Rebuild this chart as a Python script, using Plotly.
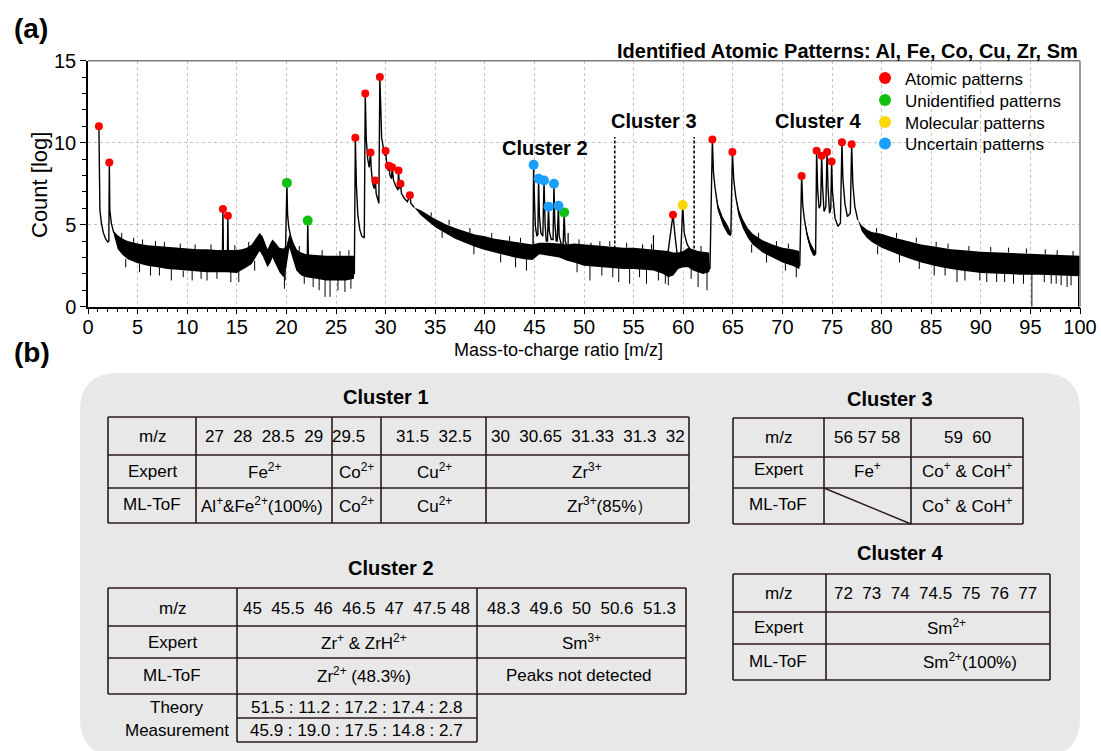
import plotly.graph_objects as go

W, H = 1101, 751

# ---------------- spectrum data ----------------
# clean signal line (peaks and their tails); None separates segments
signal_x = [1.1, 1.12, 1.2, 1.35, 1.55, 1.8, 2.0, 2.1, 2.15, 2.2, 2.35, 2.6, None,
            13.55, 13.6, 13.65, None,
            14.05, 14.1, 14.15, None,
            19.85, 20.05, 20.12, 20.25, 20.45, 20.7, 21.0, None,
            22.1, 22.15, 22.22, None,
            26.85, 26.95, 27.05, 27.2, 27.4, 27.6, 27.85, 27.95, 28.05, 28.2, 28.35, 28.48, 28.55,
            28.7, 28.85, 28.97, 29.05, 29.2, 29.32, 29.42, 29.5, 29.6, 29.8, 29.95, 30.0, 30.1,
            30.25, 30.32, 30.45, 30.6, 30.66, 30.8, 31.0, 31.25, 31.3, 31.4, 31.5, 31.6, 31.9,
            32.2, 32.44, 32.55, 32.9, None,
            44.85, 44.92, 45.02, 45.1, 45.25, 45.35, 45.42, 45.5, 45.65, 45.85, 45.97, 46.08,
            46.2, 46.32, 46.42, 46.5, 46.7, 46.88, 46.97, 47.05, 47.2, 47.3, 47.42, 47.5, 47.75,
            47.9, 48.0, 48.1, 48.3, None,
            58.4, 58.75, 58.97, 59.2, 59.45, 59.75, 59.95, 60.1, 60.4, 60.7, None,
            62.7, 62.94, 63.05, 63.2, 63.5, 64.0, 64.5, 64.8, 64.96, 65.1, 65.3, 65.6, 66.0,
            66.5, 67.0, 68.0, 69.0, 70.0, 71.0, 71.75, 71.94, 72.05, 72.2, 72.5, 72.8, 73.1,
            73.35, 73.45, 73.55, 73.7, 73.85, 73.96, 74.05, 74.2, 74.38, 74.5, 74.6, 74.75,
            74.88, 74.96, 75.05, 75.3, 75.6, 75.85, 76.0, 76.1, 76.3, 76.55, 76.85, 76.98,
            77.1, 77.3, 77.6]
signal_y = [11.0, 7.2, 5.9, 5.1, 4.5, 4.1, 3.95, 4.0, 8.8, 5.9, 5.1, 4.5, None,
            3.0, 5.95, 3.2, None,
            3.0, 5.55, 3.2, None,
            1.6, 7.55, 5.6, 4.8, 4.25, 3.8, 3.45, None,
            2.6, 5.25, 3.0, None,
            2.0, 10.3, 7.5, 5.6, 4.7, 4.3, 4.2, 13.0, 10.2, 9.0, 8.5, 9.4, 8.4,
            7.5, 7.2, 7.7, 6.9, 6.5, 6.3, 14.0, 11.5, 10.3, 9.6, 9.2, 9.5, 8.8,
            8.3, 8.6, 8.0, 7.8, 8.5, 7.7, 7.4, 7.1, 8.3, 7.2, 7.5, 6.9, 6.6,
            6.4, 6.8, 6.3, 6.05, None,
            3.0, 8.65, 6.2, 4.9, 4.3, 4.4, 7.8, 5.6, 4.5, 4.3, 7.7, 5.0,
            4.0, 4.0, 6.1, 4.6, 4.1, 4.1, 7.5, 5.2, 4.0, 4.0, 6.15, 4.3, 3.7,
            3.8, 5.75, 4.0, 3.7, None,
            3.0, 4.5, 5.6, 4.2, 2.9, 3.1, 6.2, 4.5, 3.8, 3.5, None,
            2.3, 10.2, 8.2, 7.3, 6.05, 5.2, 4.65, 4.4, 9.43, 7.7, 6.7, 5.7, 5.05,
            4.5, 4.1, 3.65, 3.4, 3.15, 3.0, 2.5, 7.97, 6.2, 5.4, 4.35, 3.7, 3.35,
            3.2, 9.51, 7.2, 6.0, 6.2, 9.21, 7.3, 5.8, 6.1, 9.43, 7.3, 5.7,
            6.0, 8.86, 7.0, 5.4, 4.9, 5.1, 10.02, 7.8, 6.3, 5.5, 5.7, 9.9,
            7.5, 6.1, 5.3]

# noisy background band: upper and lower edges
band_x = [2.6, 3.0, 3.5, 4.0, 5.0, 6.0, 7.0, 8.0, 9.0, 10.0, 11.0, 12.0, 13.0, 14.0, 15.0,
          15.5, 16.0, 16.5, 17.0, 17.3, 17.6, 17.9, 18.1, 18.4, 18.6, 18.9, 19.3, 19.7,
          20.0, 20.3, 20.6, 21.0, 21.5, 22.0, 23.0, 24.0, 25.0, 26.0, 26.8, 26.85,
          32.9, 33.5, 34.0, 35.0, 36.0, 37.0, 38.0, 39.0, 40.0, 41.0, 42.0, 43.0, 44.0,
          44.8, 45.5, 46.5, 47.5, 48.3, 49.0, 50.0, 51.0, 52.0, 53.0, 54.0, 55.0, 56.0,
          57.0, 58.0, 58.5, 59.0, 59.5, 60.0, 60.5, 61.0, 61.5, 62.0, 62.6, 62.7,
          63.2, 63.5, 64.0, 64.5, 64.8, 64.85, 65.3, 65.6, 66.0, 66.5, 67.0, 68.0, 69.0,
          70.0, 71.0, 71.7, 71.75, 72.2, 72.5, 72.8, 73.1, 73.3, 73.35, 77.6, 78.0, 78.5,
          79.0, 80.0, 81.0, 82.0, 83.0, 84.0, 85.0, 86.0, 87.0, 88.0, 90.0, 92.0, 94.0,
          96.0, 98.0, 100.0]
band_hi = [4.6, 4.35, 4.15, 4.0, 3.85, 3.75, 3.7, 3.65, 3.6, 3.55, 3.5, 3.5, 3.45, 3.45, 3.45,
           3.5, 3.6, 3.8, 4.2, 4.5, 4.3, 3.8, 3.5, 3.9, 4.1, 3.9, 3.6, 3.55,
           3.7, 4.4, 4.0, 3.5, 3.3, 3.2, 3.15, 3.1, 3.1, 3.1, 3.1, 2.2,
           6.05, 5.9, 5.7, 5.35, 5.05, 4.8, 4.6, 4.4, 4.3, 4.15, 4.05, 3.95, 3.85,
           3.8, 3.9, 3.9, 3.85, 3.8, 3.85, 3.8, 3.75, 3.7, 3.65, 3.6, 3.6, 3.55,
           3.5, 3.45, 3.4, 3.3, 3.3, 3.4, 3.6, 3.5, 3.4, 3.35, 3.3, 2.3,
           7.3, 6.25, 5.45, 4.95, 4.6, 4.45, 6.7, 5.95, 5.35, 4.8, 4.45, 4.05, 3.8,
           3.6, 3.5, 3.4, 2.5, 5.4, 4.55, 3.95, 3.6, 3.4, 3.2, 5.3, 4.95, 4.7,
           4.55, 4.45, 4.25, 4.1, 3.95, 3.8, 3.7, 3.6, 3.5, 3.45, 3.35, 3.3, 3.25,
           3.2, 3.15, 3.1]
band_lo = [4.4, 3.5, 3.15, 2.9, 2.65, 2.5, 2.4, 2.3, 2.25, 2.2, 2.15, 2.1, 2.1, 2.1, 2.05,
           2.2, 2.4, 2.6, 3.1, 3.4, 3.1, 2.6, 2.4, 2.7, 3.0, 2.6, 2.1, 1.8,
           2.4, 3.6, 3.0, 2.2, 1.9, 1.8, 1.7, 1.6, 1.6, 1.6, 1.7, 2.2,
           6.05, 5.6, 5.35, 4.85, 4.5, 4.15, 3.9, 3.65, 3.45, 3.3, 3.15, 3.0, 2.9,
           2.85, 3.2, 3.1, 3.0, 2.8, 2.7, 2.5, 2.45, 2.4, 2.35, 2.3, 2.3, 2.25,
           2.2, 2.0, 1.8, 1.9, 2.3, 2.4, 2.4, 2.2, 2.1, 2.0, 2.1, 2.3,
           7.3, 5.85, 4.95, 4.4, 4.3, 4.45, 6.7, 5.5, 4.8, 4.2, 3.8, 3.3, 3.0,
           2.7, 2.5, 2.3, 2.5, 5.4, 4.2, 3.5, 3.1, 3.1, 3.2, 5.3, 4.6, 4.2,
           3.95, 3.6, 3.35, 3.1, 2.9, 2.7, 2.55, 2.4, 2.3, 2.2, 2.05, 2.0, 1.95,
           1.95, 1.9, 1.85]

# downward noise spikes: position, top and bottom
dip_x = [3.8, 5.2, 6.3, 7.2, 8.4, 9.6, 10.5, 11.4, 12.0, 13.0, 14.4, 15.2, 16.8, 19.8, 21.8,
         22.7, 23.3, 23.9, 24.4, 25.2, 25.9, 26.5, 35.7, 38.9, 41.6, 43.1, 44.2, 49.3, 50.6,
         51.8, 52.9, 53.5, 54.6, 55.6, 56.3, 57.5, 58.2, 58.5, 60.8, 61.5, 62.4, 66.9, 68.4,
         70.3, 71.4, 79.6, 81.8, 83.8, 85.3, 86.4, 87.6, 88.4, 89.9, 90.6, 91.6, 92.4, 93.3,
         94.3, 95.15, 96.4, 97.1, 97.6, 98.1, 98.7, 99.1, 99.85]
dip_top = [2.9, 2.6, 2.6, 2.4, 2.4, 2.2, 2.3, 2.3, 2.3, 2.3, 2.3, 2.2, 2.8, 2.0, 2.0,
           1.8, 1.9, 1.8, 1.8, 1.8, 1.8, 1.9, 4.6, 3.7, 3.2, 3.0, 3.0, 2.7, 2.6,
           2.45, 2.4, 2.5, 2.5, 2.3, 2.4, 2.2, 2.2, 2.0, 2.3, 2.3, 2.2, 3.8, 3.2,
           2.7, 2.6, 3.7, 3.2, 2.8, 2.55, 2.45, 2.4, 2.2, 2.2, 2.2, 2.2, 2.0, 2.1,
           1.95, 2.1, 1.95, 2.1, 1.9, 2.0, 1.9, 2.0, 2.0]
dip_bottom = [2.4, 2.1, 1.9, 1.9, 1.6, 1.8, 1.6, 1.7, 1.6, 1.7, 1.5, 1.5, 2.2, 1.1, 1.4,
              1.2, 1.0, 0.6, 0.6, 1.0, 0.9, 1.1, 4.2, 3.2, 2.7, 2.4, 2.2, 2.1, 1.6,
              1.9, 1.8, 1.5, 1.4, 1.8, 1.4, 1.6, 1.4, 1.3, 1.7, 1.2, 1.0, 3.3, 2.7,
              2.2, 1.8, 3.2, 2.7, 2.3, 1.9, 1.9, 1.5, 1.6, 1.6, 1.5, 1.5, 1.5, 1.4,
              1.4, 0.0, 1.5, 1.4, 1.4, 1.3, 1.2, 1.3, 0.0]

# upward noise spikes on the top edge of the band
up_x = [3.4, 4.6, 5.5, 6.8, 7.7, 9.3, 10.8, 12.4, 14.8, 16.2, 21.3, 23.6, 25.4, 26.3,
        34.6, 36.4, 38.5, 40.7, 42.5, 43.6, 49.5, 51.6, 52.6, 54.3, 56.8, 61.8,
        67.6, 69.4, 70.6, 79.5, 81.5, 83.5, 85.5, 86.7, 88.8, 91.0, 92.8, 94.6, 96.5, 97.7, 99.3]
up_base = [4.1, 3.9, 3.8, 3.7, 3.6, 3.55, 3.5, 3.45, 3.45, 3.6, 3.4, 3.1, 3.1, 3.1,
           5.5, 5.0, 4.5, 4.2, 4.0, 3.9, 3.8, 3.7, 3.7, 3.6, 3.5, 3.35,
           4.2, 3.7, 3.55, 4.5, 4.2, 3.9, 3.65, 3.55, 3.4, 3.35, 3.3, 3.25, 3.2, 3.15, 3.1]
up_top = [4.5, 4.2, 4.1, 4.0, 3.95, 3.85, 3.8, 3.8, 3.75, 3.95, 3.7, 3.45, 3.4, 3.45,
          5.75, 5.3, 4.8, 4.5, 4.3, 4.2, 4.1, 4.0, 4.0, 3.9, 3.8, 3.7,
          4.5, 4.0, 3.85, 4.8, 4.5, 4.2, 3.95, 3.85, 3.7, 3.65, 3.6, 3.55, 3.5, 3.45, 3.4]

# small upward peaks inside the band
minor_x = [48.4, 50.7, 55.9, 57.0]
minor_base = [3.6, 3.5, 3.4, 3.4]
minor_top = [4.5, 3.9, 3.8, 4.35]

# labelled peaks
atomic_x = [1.1, 2.15, 13.6, 14.1, 26.95, 27.95, 28.48, 28.97, 29.42, 30.0, 30.32, 30.66,
            31.3, 31.5, 32.44, 58.97, 62.94, 64.96, 71.94, 73.45, 73.96, 74.5, 74.96, 76.0, 76.98]
atomic_y = [11.0, 8.8, 5.95, 5.55, 10.3, 13.0, 9.4, 7.7, 14.0, 9.5, 8.6, 8.5,
            8.3, 7.5, 6.8, 5.6, 10.2, 9.43, 7.97, 9.51, 9.21, 9.43, 8.86, 10.02, 9.9]
unident_x = [20.05, 22.15, 48.0]
unident_y = [7.55, 5.25, 5.75]
molecular_x = [59.95]
molecular_y = [6.2]
uncertain_x = [44.92, 45.42, 45.97, 46.42, 46.97, 47.42]
uncertain_y = [8.65, 7.8, 7.7, 6.1, 7.5, 6.15]

# cluster boundaries (dashed)
sep_x = [53.1, 61.1]
sep_y = [3.55, 10.35]

# cluster labels
cluster_names = ["Cluster 1", "Cluster 2", "Cluster 3", "Cluster 4"]
cluster_label_x = [29.0, 46.1, 57.1, 73.6]
cluster_label_y = [15.65, 9.7, 11.3, 11.3]

x_ticks = list(range(0, 101, 5))
y_ticks = [0, 5, 10, 15]

# ---------------- table contents ----------------
NB = "\u00a0"
c1_rows = [
    ["m/z", f"27{NB} 28{NB} 28.5{NB} 29", "29.5", f"31.5{NB} 32.5", f"30{NB} 30.65{NB} 31.33{NB} 31.3{NB} 32"],
    ["Expert", "Fe<sup>2+</sup>", "Co<sup>2+</sup>", "Cu<sup>2+</sup>", "Zr<sup>3+</sup>"],
    ["ML-ToF", "Al<sup>+</sup>&Fe<sup>2+</sup>(100%)", "Co<sup>2+</sup>", "Cu<sup>2+</sup>", "Zr<sup>3+</sup>(85%）"],
]
c2_rows = [
    ["m/z", f"45{NB} 45.5{NB} 46{NB} 46.5{NB} 47{NB} 47.5 48", f"48.3{NB} 49.6{NB} 50{NB} 50.6{NB} 51.3"],
    ["Expert", "Zr<sup>+</sup> & ZrH<sup>2+</sup>", "Sm<sup>3+</sup>"],
    ["ML-ToF", "Zr<sup>2+</sup> (48.3%)", "Peaks not detected"],
]
c2_ratio_labels = ["Theory", "Measurement"]
c2_ratio_values = ["51.5 : 11.2 : 17.2 : 17.4 : 2.8", "45.9 : 19.0 : 17.5 : 14.8 : 2.7"]
c3_rows = [
    ["m/z", "56 57 58", f"59{NB} 60"],
    ["Expert", "Fe<sup>+</sup>", "Co<sup>+</sup> & CoH<sup>+</sup>"],
    ["ML-ToF", "", "Co<sup>+</sup> & CoH<sup>+</sup>"],
]
c4_rows = [
    ["m/z", f"72{NB} 73{NB} 74{NB} 74.5{NB} 75{NB} 76{NB} 77"],
    ["Expert", "Sm<sup>2+</sup>"],
    ["ML-ToF", "Sm<sup>2+</sup>(100%)"],
]

# ---------------- figure ----------------
FONT = "Liberation Sans, Arial, sans-serif"

fig = go.Figure()

fig.add_trace(go.Scatter(x=band_x, y=band_hi, mode="lines", line=dict(width=0, color="black"),
                         showlegend=False, hoverinfo="skip"))
fig.add_trace(go.Scatter(x=band_x, y=band_lo, mode="lines", line=dict(width=0, color="black"),
                         fill="tonexty", fillcolor="black", showlegend=False, hoverinfo="skip"))


def spikes(xs, a, b):
    px_, py_ = [], []
    for x, u, v in zip(xs, a, b):
        px_ += [x, x, None]
        py_ += [u, v, None]
    return px_, py_


dx, dy = spikes(dip_x, dip_top, dip_bottom)
fig.add_trace(go.Scatter(x=dx, y=dy, mode="lines", line=dict(width=1, color="black"),
                         showlegend=False, hoverinfo="skip"))
ux, uy = spikes(up_x, up_base, up_top)
fig.add_trace(go.Scatter(x=ux, y=uy, mode="lines", line=dict(width=1, color="black"),
                         showlegend=False, hoverinfo="skip"))
mx, my = spikes(minor_x, minor_base, minor_top)
fig.add_trace(go.Scatter(x=mx, y=my, mode="lines", line=dict(width=1.2, color="black"),
                         showlegend=False, hoverinfo="skip"))

fig.add_trace(go.Scatter(x=signal_x, y=signal_y, mode="lines", line=dict(width=1.4, color="black"),
                         showlegend=False, hoverinfo="skip", connectgaps=False))

sx, sy = spikes(sep_x, [sep_y[0]] * len(sep_x), [sep_y[1]] * len(sep_x))
fig.add_trace(go.Scatter(x=sx, y=sy, mode="lines", line=dict(width=1.6, color="black", dash="3px,2px"),
                         showlegend=False, hoverinfo="skip"))

fig.add_trace(go.Scatter(x=atomic_x, y=atomic_y, mode="markers", name="Atomic patterns",
                         marker=dict(color="#ff0000", size=8), legend="legend"))
fig.add_trace(go.Scatter(x=unident_x, y=unident_y, mode="markers", name="Unidentified patterns",
                         marker=dict(color="#12c012", size=10), legend="legend2"))
fig.add_trace(go.Scatter(x=molecular_x, y=molecular_y, mode="markers", name="Molecular patterns",
                         marker=dict(color="#ffd700", size=10), legend="legend3"))
fig.add_trace(go.Scatter(x=uncertain_x, y=uncertain_y, mode="markers", name="Uncertain patterns",
                         marker=dict(color="#1a9fff", size=10), legend="legend4"))

axis_common = dict(showline=True, linecolor="black", linewidth=1.5, ticks="outside", ticklen=6,
                   tickwidth=1.2, tickcolor="black", showgrid=True, gridcolor="#c4c4c4",
                   griddash="dot", gridwidth=1, zeroline=False,
                   tickfont=dict(family=FONT, size=20, color="black"))


def leg(top):
    return dict(x=865 / W, y=1 - top / H, xanchor="left", yanchor="top", bgcolor="rgba(0,0,0,0)",
                font=dict(family=FONT, size=17, color="black"), itemsizing="constant")


fig.update_layout(
    width=W, height=H, margin=dict(l=0, r=0, t=0, b=0, autoexpand=False),
    paper_bgcolor="white", plot_bgcolor="white",
    xaxis=dict(domain=[88 / W, 1080 / W], range=[0, 100], tickvals=x_ticks, ticklabelstandoff=-4,
               minor=dict(dtick=1, ticks="outside", ticklen=4, tickcolor="black", showgrid=False),
               **axis_common),
    yaxis=dict(domain=[1 - 306.7 / H, 1 - 60.7 / H], range=[0, 15], tickvals=y_ticks,
               minor=dict(dtick=1, ticks="outside", ticklen=4, tickcolor="black", showgrid=False),
               **axis_common),
    legend=leg(60.5), legend2=leg(82.5), legend3=leg(104.5), legend4=leg(126),
    showlegend=True,
)

shapes = []
# plot frame top / right (gray)
shapes.append(dict(type="line", xref="x domain", yref="y domain", x0=0, x1=1, y0=1, y1=1,
                   line=dict(color="#7a7a7a", width=1.5)))
shapes.append(dict(type="line", xref="x domain", yref="y domain", x0=1, x1=1, y0=0, y1=1,
                   line=dict(color="#7a7a7a", width=1.5)))


def PX(x):
    return x / W


def PY(y):
    return 1 - y / H


# rounded gray panel
x0, y0, x1, y1, r = 80, 373, 1080, 756, 38
pts = [("M", x0 + r, y0), ("L", x1 - r, y0), ("Q", x1, y0, x1, y0 + r), ("L", x1, y1 - r),
       ("Q", x1, y1, x1 - r, y1), ("L", x0 + r, y1), ("Q", x0, y1, x0, y1 - r), ("L", x0, y0 + r),
       ("Q", x0, y0, x0 + r, y0)]
path = ""
for p in pts:
    cmd = p[0]
    coords = p[1:]
    s = " ".join(f"{PX(coords[i]):.5f},{PY(coords[i + 1]):.5f}" for i in range(0, len(coords), 2))
    path += f"{cmd}{s} "
path += "Z"
shapes.append(dict(type="path", xref="paper", yref="paper", path=path, fillcolor="#e8e8e8",
                   line=dict(width=0), layer="below"))

LC = "#2a1a1a"


def seg(xa, ya, xb, yb, w=1.6):
    shapes.append(dict(type="line", xref="paper", yref="paper", x0=PX(xa), y0=PY(ya), x1=PX(xb),
                       y1=PY(yb), line=dict(color=LC, width=w)))


def grid_table(xs, ys):
    for y in ys:
        seg(xs[0], y, xs[-1], y)
    for x in xs:
        seg(x, ys[0], x, ys[-1])


T1X = [108, 196, 332, 381, 486, 689]
T1Y = [417, 455, 488, 523]
grid_table(T1X, T1Y)
T2X = [108, 237, 477, 686]
T2Y = [588, 626, 658, 694]
grid_table(T2X, T2Y)
T2RY = [694, 718, 742]
for y in T2RY[1:]:
    seg(T2X[1], y, T2X[2], y)
seg(T2X[1], T2RY[0], T2X[1], T2RY[-1])
seg(T2X[2], T2RY[0], T2X[2], T2RY[-1])
T3X = [733, 824, 911, 1023]
T3Y = [418, 457, 488, 524]
grid_table(T3X, T3Y)
seg(T3X[1], T3Y[2], T3X[2], T3Y[3], w=1.4)
T4X = [733, 826, 1050]
T4Y = [574, 612, 644, 680]
grid_table(T4X, T4Y)

annotations = []


def txt(x, y, s, size=17, bold=False, family=FONT, xanchor="center", angle=0):
    annotations.append(dict(xref="paper", yref="paper", x=PX(x), y=PY(y), text=f"<b>{s}</b>" if bold else s,
                            showarrow=False, xanchor=xanchor, yanchor="middle", textangle=angle,
                            font=dict(family=family, size=size, color="black")))


# panel letters, axis titles, headers
txt(12, 28, "(a)", size=28, bold=True, xanchor="left")
txt(12, 352, "(b)", size=28, bold=True, xanchor="left")
txt(558, 350, "Mass-to-charge ratio [m/z]", size=18)
txt(40, 185, "Count [log]", size=22, angle=-90)
annotations.append(dict(xref="paper", yref="paper", x=PX(1080), y=PY(51),
                        text="<b>Identified Atomic Patterns: Al, Fe, Co, Cu, Zr, Sm</b>", showarrow=False,
                        xanchor="right", yanchor="middle", font=dict(family=FONT, size=20, color="black")))
for name, cx, cy in zip(cluster_names, cluster_label_x, cluster_label_y):
    annotations.append(dict(xref="x", yref="y", x=cx, y=cy, text=f"<b>{name}</b>", showarrow=False,
                            xanchor="center", yanchor="middle",
                            font=dict(family=FONT, size=20, color="black")))

# table titles
txt(386, 397, "Cluster 1", size=20, bold=True)
txt(391, 568, "Cluster 2", size=20, bold=True)
txt(890, 399, "Cluster 3", size=20, bold=True)
txt(900, 553, "Cluster 4", size=20, bold=True)

# table 1 text
c1_cx = [[152, 264, 348, 434, 588], [152, 264, 356, 434, 587], [152, 262, 356, 434, 610]]
c1_cy = [436, 471, 505]
for row, cxs, cy in zip(c1_rows, c1_cx, c1_cy):
    for s, cx in zip(row, cxs):
        txt(cx, cy, s)

c2_cx = [[172, 356, 581], [172, 364, 581], [172, 364, 579]]
c2_cy = [608, 642, 675]
for row, cxs, cy in zip(c2_rows, c2_cx, c2_cy):
    for s, cx in zip(row, cxs):
        txt(cx, cy, s)
for lab, val, cy in zip(c2_ratio_labels, c2_ratio_values, [707, 730]):
    txt(177, cy, lab)
    txt(356, cy, val)

c3_cx = [[778, 867, 967], [778, 867, 967], [778, 867, 967]]
c3_cy = [437, 470, 505]
for row, cxs, cy in zip(c3_rows, c3_cx, c3_cy):
    for s, cx in zip(row, cxs):
        if s:
            txt(cx, cy, s)

c4_cx = [[778, 935], [778, 946], [778, 970]]
c4_cy = [593, 627, 661]
for row, cxs, cy in zip(c4_rows, c4_cx, c4_cy):
    for s, cx in zip(row, cxs):
        txt(cx, cy, s)

fig.update_layout(shapes=shapes, annotations=annotations)
fig.write_html("out.html", config={"displayModeBar": False},
               post_script="document.body.style.margin='0px';")
